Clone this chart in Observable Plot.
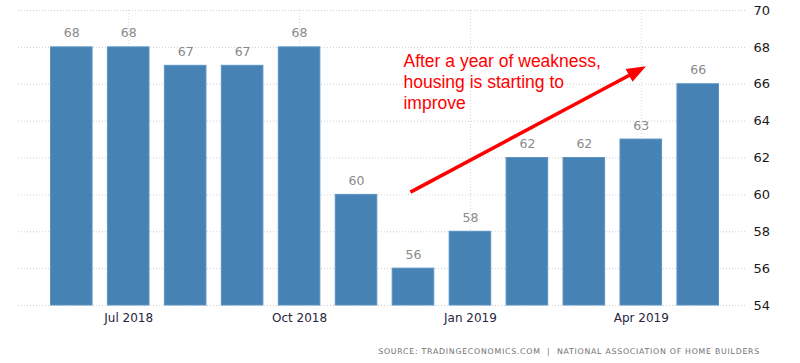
<!DOCTYPE html>
<html>
<head>
<meta charset="utf-8">
<script src="https://cdn.jsdelivr.net/npm/d3@7"></script>
<script src="https://cdn.jsdelivr.net/npm/@observablehq/plot@0.6"></script>
<style>
  html, body { margin: 0; padding: 0; background: #fff; }
  #chart { width: 800px; }
  .caption { width: 800px; height: 23px; position: relative; font-family: "DejaVu Sans", sans-serif; font-size: 7.8px; color: #6f6f6f; letter-spacing: 0.75px; }
  .caption span { position: absolute; right: 40px; top: 7px; white-space: nowrap; }
</style>
</head>
<body>
<div id="chart"></div>
<div class="caption"><span>SOURCE: TRADINGECONOMICS.COM&nbsp; |&nbsp; NATIONAL ASSOCIATION OF HOME BUILDERS</span></div>
<script>
const months = ["Jun 2018","Jul 2018","Aug 2018","Sep 2018","Oct 2018","Nov 2018","Dec 2018","Jan 2019","Feb 2019","Mar 2019","Apr 2019","May 2019"];
const values = [68,68,67,67,68,60,56,58,62,62,63,66];
const tickMonths = ["Jul 2018","Oct 2018","Jan 2019","Apr 2019"];
const yTicks = [54,56,58,60,62,64,66,68,70];
const noteText = "After a year of weakness,\nhousing is starting to\nimprove";
const noteAt = [{month: "Dec 2018", value: 67.75}];
const arrowFrom = {month: "Dec 2018", value: 60.15};
const arrowTo = {month: "Apr 2019", value: 66.75};

const data = months.map((m, i) => ({month: m, value: values[i]}));
const arrowData = [{x1: arrowFrom.month, y1: arrowFrom.value, x2: arrowTo.month, y2: arrowTo.value}];

function headMarker(color, context) {
  const doc = (context && context.document) || document;
  const ns = "http://www.w3.org/2000/svg";
  const m = doc.createElementNS(ns, "marker");
  m.setAttribute("class", "filled-head");
  m.setAttribute("viewBox", "-6 -5 11 10");
  m.setAttribute("markerWidth", "5.6");
  m.setAttribute("markerHeight", "5");
  m.setAttribute("refX", "0");
  m.setAttribute("refY", "0");
  m.setAttribute("orient", "auto");
  m.setAttribute("fill", "#ff0000");
  m.setAttribute("stroke", "none");
  const p = doc.createElementNS(ns, "path");
  p.setAttribute("d", "M-6,-4.2L5,0L-6,4.2Z");
  m.appendChild(p);
  return m;
}

function build(useCustom) {
  const arrowMark = useCustom
    ? Plot.link(arrowData, {x1: "x1", y1: "y1", x2: "x2", y2: "y2", stroke: "#ff0000", strokeWidth: 3.5, dx: -3, markerEnd: headMarker})
    : Plot.arrow(arrowData, {x1: "x1", y1: "y1", x2: "x2", y2: "y2", stroke: "#ff0000", strokeWidth: 3.5, headLength: 18, headAngle: 50});
  return Plot.plot({
    width: 800,
    height: 340,
    marginTop: 10,
    marginBottom: 35,
    marginLeft: 22,
    marginRight: 53,
    style: {fontFamily: "DejaVu Sans, sans-serif", background: "#fff"},
    x: {domain: months, paddingInner: 0.27, paddingOuter: 0.5, round: false, label: null},
    y: {domain: [54, 70], label: null},
    marks: [
      Plot.ruleY(yTicks, {stroke: "#cfcfcf", strokeDasharray: "1,2", insetLeft: -4}),
      Plot.ruleX(tickMonths, {stroke: "#d8d8d8", strokeDasharray: "1,2"}),
      Plot.barY(data, {x: "month", y1: 54, y2: "value", fill: "#4682b4", stroke: "#5a93c2", strokeWidth: 1}),
      Plot.text(data, {x: "month", y: "value", text: d => String(d.value), dy: -14, fill: "#8a8a8a", fontSize: 12.5, fontFamily: "DejaVu Sans, sans-serif"}),
      Plot.axisX({ticks: tickMonths, tickSize: 0, tickPadding: 8, fontSize: 12, fill: "#262640", label: null}),
      Plot.axisY({anchor: "right", ticks: yTicks, tickSize: 0, tickPadding: 6, fontSize: 13, fill: "#1a1a1a", label: null}),
      arrowMark,
      Plot.text(noteAt, {x: "month", y: "value", text: () => noteText, textAnchor: "start", lineAnchor: "top", dx: -10, lineHeight: 1.2, fontSize: 17.5, fill: "#ff0000", fontFamily: "Liberation Sans, Arial, sans-serif"})
    ]
  });
}

let chart;
try {
  chart = build(true);
  if (!chart.querySelector("marker.filled-head")) chart = build(false);
} catch (e) {
  chart = build(false);
}
document.getElementById("chart").appendChild(chart);
</script>
</body>
</html>
